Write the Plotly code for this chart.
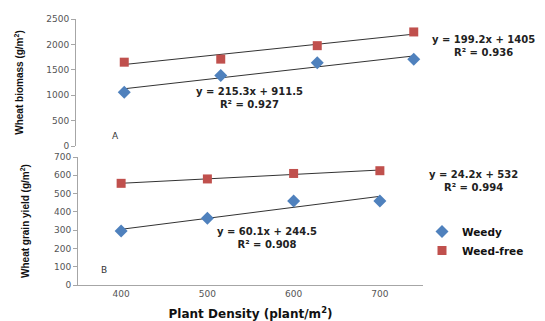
import plotly.graph_objects as go

# ---- data ----
density = [400, 500, 600, 700]
weedy_biomass = [1060, 1390, 1640, 1710]
weedfree_biomass = [1650, 1710, 1975, 2245]
weedy_grain = [295, 365, 460, 460]
weedfree_grain = [556, 580, 610, 625]

# trendline coefficients (x = 1..4 index)
trend_weedy_biomass = [215.3, 911.5]
trend_weedfree_biomass = [199.2, 1405]
trend_weedy_grain = [60.1, 244.5]
trend_weedfree_grain = [24.2, 532]

# page has an 8px body margin; figure fills the rest of the 545x321 window
OFF = 8
W, H = 545 - OFF, 321 - OFF
def px(x):
    return (x - OFF) / W
def py(y):
    return 1 - (y - OFF) / H

BLUE = "#4F81BD"
RED = "#C0504D"
AX = "#A6A6A6"
TICKF = dict(family="DejaVu Sans", size=9, color="#555555")
ANNF = dict(family="DejaVu Sans", size=10, color="#222222", weight="bold")
YTF = dict(family="Liberation Sans", size=10, color="#111111", weight="bold")

def trend(coef):
    return [coef[0] * (i + 1) + coef[1] for i in range(len(density))]

fig = go.Figure()

# top panel
fig.add_trace(go.Scatter(x=density, y=trend(trend_weedy_biomass), mode="lines",
                         line=dict(color="#333333", width=1), showlegend=False,
                         xaxis="x", yaxis="y", hoverinfo="skip"))
fig.add_trace(go.Scatter(x=density, y=trend(trend_weedfree_biomass), mode="lines",
                         line=dict(color="#333333", width=1), showlegend=False,
                         xaxis="x", yaxis="y", hoverinfo="skip"))
fig.add_trace(go.Scatter(x=density, y=weedy_biomass, mode="markers", name="Weedy",
                         marker=dict(symbol="diamond", size=10, color=BLUE),
                         showlegend=False, xaxis="x", yaxis="y"))
fig.add_trace(go.Scatter(x=density, y=weedfree_biomass, mode="markers", name="Weed-free",
                         marker=dict(symbol="square", size=9, color=RED),
                         showlegend=False, xaxis="x", yaxis="y"))

# bottom panel
fig.add_trace(go.Scatter(x=density, y=trend(trend_weedy_grain), mode="lines",
                         line=dict(color="#333333", width=1), showlegend=False,
                         xaxis="x2", yaxis="y2", hoverinfo="skip"))
fig.add_trace(go.Scatter(x=density, y=trend(trend_weedfree_grain), mode="lines",
                         line=dict(color="#333333", width=1), showlegend=False,
                         xaxis="x2", yaxis="y2", hoverinfo="skip"))
fig.add_trace(go.Scatter(x=density, y=weedy_grain, mode="markers", name="Weedy",
                         marker=dict(symbol="diamond", size=10, color=BLUE),
                         xaxis="x2", yaxis="y2"))
fig.add_trace(go.Scatter(x=density, y=weedfree_grain, mode="markers", name="Weed-free",
                         marker=dict(symbol="square", size=9, color=RED),
                         xaxis="x2", yaxis="y2"))

fig.update_layout(
    width=W, height=H,
    margin=dict(l=0, r=0, t=0, b=0, autoexpand=False),
    paper_bgcolor="white", plot_bgcolor="white",
    xaxis=dict(domain=[px(76), px(462)], range=[350, 750], visible=False,
               anchor="y", automargin=False),
    yaxis=dict(domain=[py(146), py(19)], range=[0, 2500], dtick=500,
               showgrid=False, zeroline=False, showline=True, linecolor=AX,
               ticks="outside", ticklen=4, tickcolor=AX, tickfont=TICKF,
               anchor="x", automargin=False,
               title=dict(text="Wheat biomass (g/m<sup>2</sup>)", standoff=20,
                          font=YTF)),
    xaxis2=dict(domain=[px(78), px(423)], range=[350, 750], dtick=100,
                showgrid=False, zeroline=False, showline=True, linecolor=AX,
                ticks="", tickfont=TICKF, anchor="y2", automargin=False,
                tickvals=density,
                title=dict(text="Plant Density (plant/m<sup>2</sup>)", standoff=12,
                           font=dict(family="DejaVu Sans", size=12, color="#111111",
                                     weight="bold"))),
    yaxis2=dict(domain=[py(285), py(157)], range=[0, 700], dtick=100,
                showgrid=False, zeroline=False, showline=True, linecolor=AX,
                ticks="outside", ticklen=4, tickcolor=AX, tickfont=TICKF,
                anchor="x2", automargin=False,
                title=dict(text="Wheat grain yield (g/m<sup>2</sup>)", standoff=22,
                           font=YTF)),
    legend=dict(x=px(422), y=py(217), xanchor="left", yanchor="top",
                font=dict(family="DejaVu Sans", size=10.5, color="#111111", weight="bold"),
                bgcolor="rgba(0,0,0,0)", itemwidth=30, tracegroupgap=0),
    showlegend=True,
)

anns = [
    ("y = 215.3x + 911.5<br>R² = 0.927", 249, 98, ANNF),
    ("y = 199.2x + 1405<br>R² = 0.936", 483, 46.5, ANNF),
    ("y = 60.1x + 244.5<br>R² = 0.908", 267, 237.5, ANNF),
    ("y = 24.2x + 532<br>R² = 0.994", 473, 180.5, ANNF),
    ("A", 115, 136, dict(family="DejaVu Sans", size=9, color="#333333")),
    ("B", 104, 270, dict(family="DejaVu Sans", size=9, color="#333333")),
]
for t, x, y, f in anns:
    fig.add_annotation(text=t, x=px(x), y=py(y), xref="paper", yref="paper",
                       xanchor="center", yanchor="middle", showarrow=False,
                       align="center", font=f)

fig.write_html("out.html")
